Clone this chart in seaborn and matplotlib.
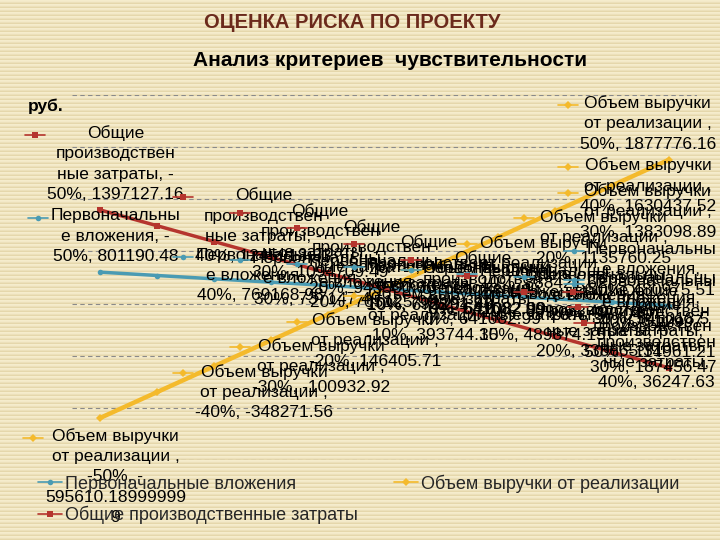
import numpy as np
import pandas as pd
import seaborn as sns
import matplotlib
matplotlib.use("Agg")
import matplotlib.pyplot as plt
from matplotlib.lines import Line2D

# значения с графика (руб.)
categories = ["-50%", "-40%", "-30%", "-20%", "-10%", "0%",
              "10%", "20%", "30%", "40%", "50%"]
revenue = [-595610.189999999, -348271.56, -100932.92, 146405.71, 393744.35, 641082.99,
           888421.62, 1135760.25, 1383098.89, 1630437.52, 1877776.16]
investment = [801190.48, 769168.98, 737147.49, 705125.99, 673104.49, 641082.99,
              609061.49, 577040.0, 545018.5, 512997.0, 480975.51]
costs = [1397127.16, 1245918.33, 1094709.49, 943500.66, 792291.83, 641082.99,
         489874.15, 338665.31, 187456.47, 36247.63, -114961.21]

names = ["Объем выручки от реализации", "Первоначальные вложения",
         "Общие производственные затраты"]
# как Excel перенёс названия в подписях
heads = ["Объем выручки\nот реализации ,", "Первоначальны\nе вложения,",
         "Общие\nпроизводствен\nные затраты,"]
colors = ["#F4BA2C", "#4A9BB3", "#B5352E"]
markers = ["D", "o", "s"]

sns.set_style("white")
plt.rcParams["font.family"] = ["Liberation Sans", "DejaVu Sans"]

W, H = 720, 540
fig = plt.figure(figsize=(7.2, 5.4), dpi=100)

# фон - полосатая бумага
stripe = np.zeros((H, 1, 3))
pal = {0: (245, 236, 204), 1: (243, 233, 200), 2: (236, 224, 186), 3: (229, 215, 171)}
for r in range(H):
    stripe[r, 0] = np.array(pal[r % 4]) / 255
bg = fig.add_axes([0, 0, 1, 1], zorder=-10)
bg.imshow(stripe, aspect="auto", interpolation="nearest")
bg.axis("off")

ax = fig.add_axes([72 / W, 1 - 460 / H, 625 / W, 365 / H])
ax.set_facecolor("none")

df = pd.DataFrame({
    "pos": list(range(len(categories))) * 3,
    "val": revenue + investment + costs,
    "series": [names[0]] * 11 + [names[1]] * 11 + [names[2]] * 11,
})
for k, name in enumerate(names):
    sns.lineplot(data=df[df["series"] == name], x="pos", y="val", ax=ax,
                 color=colors[k], lw=3.2 if k == 0 else 2.5, marker=markers[k],
                 markersize=4, markeredgewidth=0, sort=False, zorder=3 + k)

ax.set_xlim(-0.5, 10.5)
ax.set_ylim(-1e6, 2.5e6)
ax.yaxis.set_major_locator(matplotlib.ticker.MultipleLocator(500000))
ax.grid(axis="y", color="#8a8a8a", lw=0.8, ls=(0, (4, 3)))
ax.grid(axis="x", visible=False)
ax.set_xticks([])
ax.tick_params(left=False, labelleft=False)
ax.set_xlabel("")
ax.set_ylabel("")
for s in ax.spines.values():
    s.set_visible(False)


def fmt(v):
    s = repr(v)
    return s[:-2] if s.endswith(".0") else s


def label_text(head, cat, val):
    lines = head.split("\n")
    tail = [cat + ",", val]
    if cat.startswith("-") and len(lines[-1]) + 2 <= 14:
        lines[-1] += " -"
        tail[0] = cat[1:] + ","
    out = []
    cur = tail[0]
    for w in tail[1:]:
        if len(cur) + 1 + len(w) <= 16:
            cur += " " + w
        else:
            if w.startswith("-"):
                cur += " -"
                w = w[1:]
            out.append(cur)
            cur = w
    while " " not in cur and len(cur) > 15:
        out.append(cur[:15])
        cur = cur[15:]
    out.append(cur)
    return "\n".join(lines + out)


px = 72 / 100
labels = []
last = len(categories) - 1
for k, vals in enumerate([revenue, investment, costs]):
    for i, v in enumerate(vals):
        txt = label_text(heads[k], categories[i], fmt(v))
        if i == 0 and k == 0:
            off, ha, va = (15 * px, -10 * px), "center", "top"
        elif i == 0 or i == last:
            off, ha, va = (15 * px, 8 * px), "center", "bottom"
        else:
            off, ha, va = (38 * px, 0), "left", "center"
        t = ax.annotate(txt, (i, v), xytext=off, textcoords="offset points",
                        ha=ha, va=va, multialignment="center", fontsize=12.5,
                        linespacing=1.45, color="black", zorder=10,
                        annotation_clip=False)
        labels.append((t, k))

fig.canvas.draw()
for t, k in labels:
    bb = t.get_window_extent()
    if bb.x1 > 716:
        dx, dy = t.xyann
        t.xyann = (dx - (bb.x1 - 716) * px, dy)
fig.canvas.draw()
inv = fig.transFigure.inverted()
for t, k in labels:
    bb = t.get_window_extent()
    n = t.get_text().count("\n") + 1
    lh = bb.height / n
    cx, cy = bb.x0 - 12, bb.y1 - lh / 2
    (x0, y0), (x1, y1) = inv.transform([(cx - 10, cy), (cx + 10, cy)])
    fig.add_artist(Line2D([x0, x1], [y0, y1], color=colors[k], lw=1.2, zorder=9,
                          transform=fig.transFigure))
    fig.add_artist(Line2D([(x0 + x1) / 2], [y0], color=colors[k], marker=markers[k],
                          markersize=4, markeredgewidth=0, zorder=9,
                          transform=fig.transFigure))

# легенда
handles = [Line2D([], [], color=colors[k], lw=1.2, marker=markers[k], markersize=4,
                  markeredgewidth=0) for k in range(3)]
order = [1, 2, 0]
fig.legend([handles[k] for k in order], [names[k] for k in order],
           loc="upper left", bbox_to_anchor=(22 / W, 1 - 458 / H), ncol=2,
           frameon=False, fontsize=13, handlelength=1.3, handletextpad=0.2,
           labelspacing=0.75, columnspacing=2.0)

fig.text(352 / W, 1 - 22 / H, "ОЦЕНКА РИСКА ПО ПРОЕКТУ", ha="center", va="center",
         fontsize=14.5, fontweight="bold", color="#6B2A1C")
fig.text(390 / W, 1 - 60 / H, "Анализ критериев  чувствительности", ha="center",
         va="center", fontsize=15, fontweight="bold", color="black")
fig.text(28 / W, 1 - 106 / H, "руб.", ha="left", va="center", fontsize=12.5,
         fontweight="bold", color="black")

fig.savefig("out.png", dpi=100)
